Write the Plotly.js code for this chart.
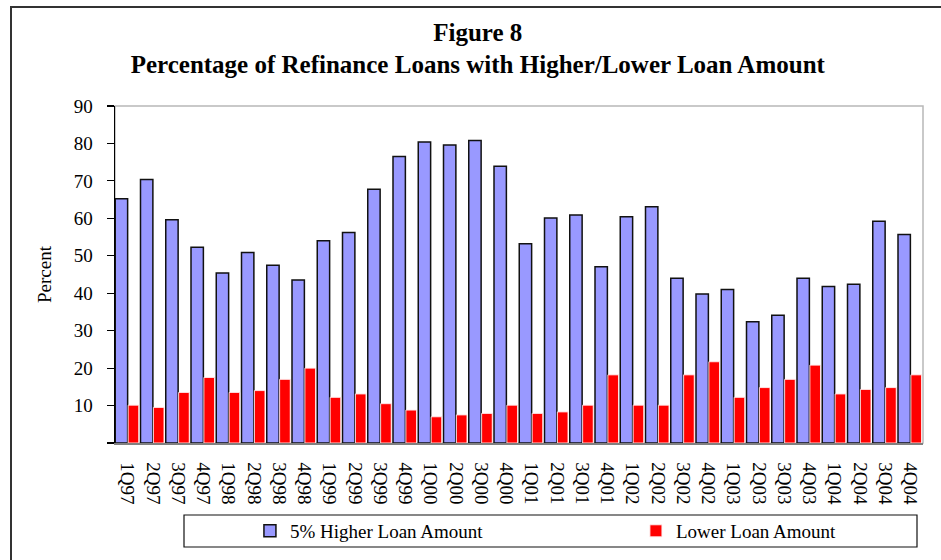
<!DOCTYPE html>
<html>
<head>
<meta charset="utf-8">
<script src="https://cdn.plot.ly/plotly-3.0.1.min.js"></script>
<style>
  html, body { margin: 0; padding: 0; background: #ffffff; }
  #chart { width: 941px; height: 560px; }
</style>
</head>
<body>
<div id="chart"></div>
<script>
var categories = ["1Q97","2Q97","3Q97","4Q97","1Q98","2Q98","3Q98","4Q98",
                  "1Q99","2Q99","3Q99","4Q99","1Q00","2Q00","3Q00","4Q00",
                  "1Q01","2Q01","3Q01","4Q01","1Q02","2Q02","3Q02","4Q02",
                  "1Q03","2Q03","3Q03","4Q03","1Q04","2Q04","3Q04","4Q04"];
var higherLoan = [65.2,70.4,59.6,52.3,45.4,50.9,47.5,43.5,
                  54.0,56.2,67.8,76.5,80.4,79.6,80.8,73.9,
                  53.2,60.1,60.9,47.1,60.4,63.1,44.0,39.8,
                  41.0,32.4,34.1,44.0,41.8,42.4,59.2,55.7];
var lowerLoan  = [10.1,9.5,13.5,17.5,13.5,14.0,17.0,20.0,
                  12.2,13.1,10.5,8.8,7.0,7.5,7.9,10.1,
                  7.9,8.3,10.1,18.2,10.1,10.1,18.2,21.7,
                  12.2,14.8,17.0,20.8,13.1,14.3,14.8,18.2];
var seriesNames = ["5% Higher Loan Amount", "Lower Loan Amount"];
var yTickVals = [0,10,20,30,40,50,60,70,80,90];
var yTickText = ["","10","20","30","40","50","60","70","80","90"];

var serif = "Liberation Serif";

var traces = [
  {
    type: "bar",
    name: seriesNames[0],
    x: categories,
    y: higherLoan,
    offset: -0.49,
    width: 0.49,
    marker: { color: "#9999FF", line: { color: "#111111", width: 1.5 } },
    hoverinfo: "skip"
  },
  {
    type: "bar",
    name: seriesNames[1],
    x: categories,
    y: lowerLoan,
    offset: 0.02,
    width: 0.42,
    marker: { color: "#FF0000", line: { color: "rgba(255,235,235,0.9)", width: 1 } },
    hoverinfo: "skip"
  }
];

var layout = {
  width: 941,
  height: 560,
  margin: { l: 115, r: 18, t: 106, b: 117, autoexpand: false },
  paper_bgcolor: "#ffffff",
  plot_bgcolor: "#ffffff",
  barmode: "overlay",
  font: { family: serif, size: 19, color: "#000000" },
  title: {
    text: "<b>Figure 8</b><br><b>Percentage of Refinance Loans with Higher/Lower Loan Amount</b>",
    font: { family: serif, size: 25, color: "#000000" },
    xref: "paper",
    x: 0.449,
    xanchor: "center",
    yref: "container",
    y: 0.927,
    yanchor: "top"
  },
  xaxis: {
    type: "category",
    range: [-0.5, 31.5],
    tickangle: 90,
    ticks: "",
    showgrid: false,
    zeroline: false,
    showline: true,
    linecolor: "#808080",
    linewidth: 1.5,
    ticklabelstandoff: 14,
    tickfont: { family: serif, size: 19, color: "#000000" },
    automargin: false,
    fixedrange: true
  },
  yaxis: {
    range: [0, 90],
    tickmode: "array",
    tickvals: yTickVals,
    ticktext: yTickText,
    ticks: "outside",
    ticklen: 7,
    tickwidth: 1.2,
    tickcolor: "#000000",
    showgrid: false,
    zeroline: false,
    showline: true,
    linecolor: "#000000",
    linewidth: 1.5,
    ticklabelstandoff: 10,
    tickfont: { family: serif, size: 19, color: "#000000" },
    title: { text: "Percent", font: { family: serif, size: 19, color: "#000000" }, standoff: 17 },
    automargin: false,
    fixedrange: true
  },
  showlegend: true,
  legend: {
    orientation: "h",
    x: 0.167,
    xanchor: "left",
    y: -0.261,
    yanchor: "middle",
    bgcolor: "rgba(0,0,0,0)",
    borderwidth: 0,
    entrywidth: 341,
    font: { family: serif, size: 19, color: "#000000" }
  },
  shapes: [
    { type: "rect", xref: "paper", yref: "paper", x0: 0, x1: 1, y0: 0, y1: 1,
      line: { color: "#b8b8b8", width: 1.5 }, layer: "below" },
    { type: "rect", xref: "paper", yref: "paper",
      x0: (184 - 115) / 808, x1: (917 - 115) / 808,
      y0: (443 - 547) / 337, y1: (443 - 515) / 337,
      line: { color: "#111111", width: 1.2 }, fillcolor: "rgba(0,0,0,0)", layer: "above" },
    { type: "rect", xref: "paper", yref: "paper",
      x0: (11 - 115) / 808, x1: 1.2, y0: -0.7, y1: (443 - 7) / 337,
      line: { color: "#333333", width: 2 }, fillcolor: "rgba(0,0,0,0)", layer: "below" }
  ]
};

Plotly.newPlot("chart", traces, layout, { displayModeBar: false, staticPlot: true });
</script>
</body>
</html>
